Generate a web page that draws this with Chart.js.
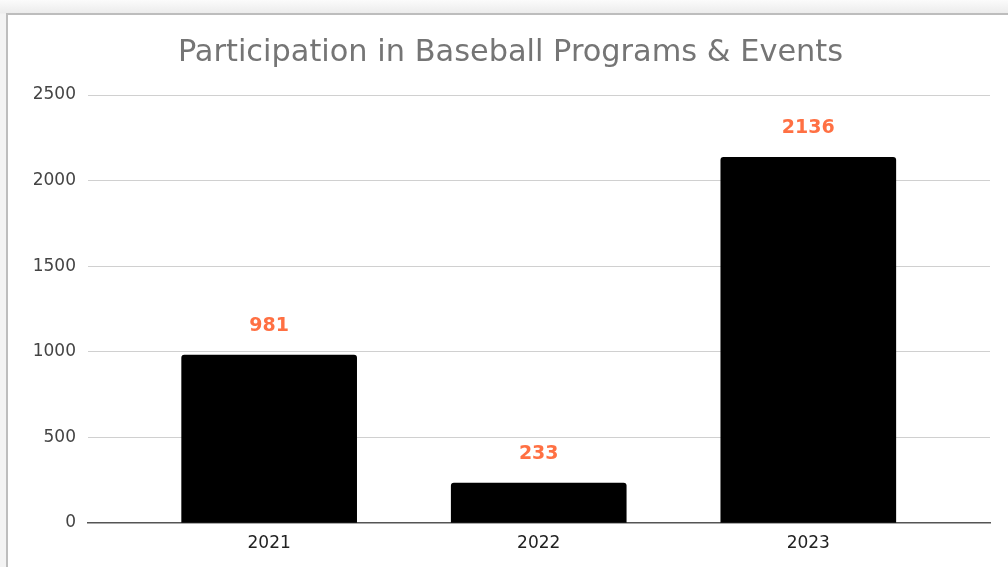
<!DOCTYPE html>
<html>
<head>
<meta charset="utf-8">
<script src="https://cdn.jsdelivr.net/npm/chart.js@4.4.0/dist/chart.umd.min.js"></script>
<style>
  html, body { margin: 0; padding: 0; }
  body {
    width: 1008px; height: 567px; overflow: hidden; position: relative;
    background: linear-gradient(#fbfbfb, #ececec 13px, #f3f3f3 14px);
  }
  #frame {
    position: absolute; left: 6px; top: 13px; right: -10px; bottom: -10px;
    background: #fff;
    border-left: 2px solid #bdbdbd; border-top: 2px solid #bdbdbd;
  }
  #usageChart { position: absolute; left: 0; top: 0; }
</style>
</head>
<body>
<div id="frame"></div>
<canvas id="usageChart" width="1008" height="567"></canvas>
<script>
const years = ['2021', '2022', '2023'];
const participants = [981, 233, 2136];
const yTicks = [0, 500, 1000, 1500, 2000, 2500];
const chartTitle = 'Participation in Baseball Programs & Events';

const font = 'DejaVu Sans';

// title + value labels above bars
const barLabels = {
    id: 'barLabels',
    afterDraw(chart) {
        const ctx = chart.ctx;
        ctx.save();
        ctx.font = '30.4px "' + font + '"';
        ctx.fillStyle = '#757575';
        ctx.textAlign = 'center';
        ctx.textBaseline = 'alphabetic';
        ctx.fillText(chartTitle, 510.5, 61);
        ctx.restore();
    },
    afterDatasetsDraw(chart) {
        const ctx = chart.ctx;
        const meta = chart.getDatasetMeta(0);
        ctx.save();
        ctx.font = 'bold 19px "' + font + '"';
        ctx.fillStyle = '#ff7043';
        ctx.textAlign = 'center';
        ctx.textBaseline = 'middle';
        meta.data.forEach(function(bar, i){
            ctx.fillText(String(participants[i]), bar.x, bar.y - 29);
        });
        ctx.restore();
    }
};

const ctx = document.getElementById('usageChart').getContext('2d');
window.usageChart = new Chart(ctx, {
    type: 'bar',
    data: {
        datasets: [{
            label: 'Participation',
            data: participants.map((v, i) => ({ x: i, y: v })),
            backgroundColor: '#000000',
            borderWidth: 0,
            borderRadius: { topLeft: 3, topRight: 3, bottomLeft: 0, bottomRight: 0 },
            borderSkipped: false,
            barThickness: 175
        }]
    },
    options: {
        responsive: false,
        animation: false,
        layout: { padding: { left: 0, right: 18, top: 95, bottom: 0 } },
        plugins: {
            legend: { display: false },
            tooltip: { enabled: false },
            title: { display: false }
        },
        scales: {
            x: {
                type: 'linear',
                offset: false,
                min: -0.672,
                max: 2.674,
                afterBuildTicks(scale) { scale.ticks = years.map((y, i) => ({ value: i })); },
                afterFit(scale) { scale.height = 44; },
                grid: { display: false, drawTicks: false },
                border: { display: true, color: '#555555', width: 1.5 },
                ticks: {
                    padding: 10,
                    color: '#222222',
                    font: { family: font, size: 17 },
                    callback: (v) => years[v]
                }
            },
            y: {
                min: 0,
                max: 2500,
                afterBuildTicks(scale) { scale.ticks = yTicks.map(v => ({ value: v })); },
                afterFit(scale) { scale.width = 88; },
                grid: {
                    drawTicks: false,
                    color: (c) => c.tick && c.tick.value === 0 ? 'rgba(0,0,0,0)' : '#d0d0d0'
                },
                border: { display: false },
                ticks: {
                    padding: 12,
                    color: '#444444',
                    font: { family: font, size: 17 },
                    callback: (v) => String(v)
                }
            }
        }
    },
    plugins: [barLabels]
});
</script>
</body>
</html>
